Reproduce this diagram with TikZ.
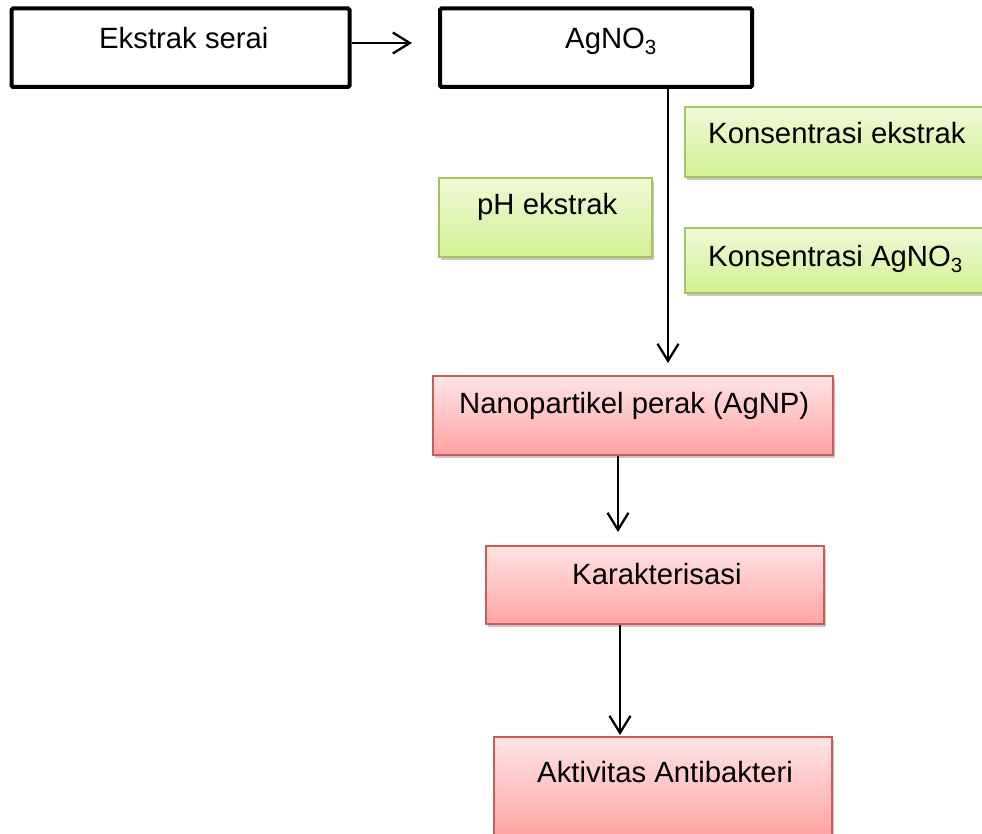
\documentclass[tikz,border=0pt]{standalone}
\usepackage{fontspec}
\setmainfont{Liberation Sans}
\usetikzlibrary{arrows.meta,shadows}
\definecolor{gtop}{HTML}{F0FAD8}
\definecolor{gbot}{HTML}{D2F092}
\definecolor{gline}{HTML}{A3C660}
\definecolor{rtop}{HTML}{FFE4E4}
\definecolor{rbot}{HTML}{FFA4A4}
\definecolor{rline}{HTML}{CC5A58}
\begin{document}
\begin{tikzpicture}[x=1pt,y=-1pt,
  blackbox/.style={draw=black,line width=4pt,rounded corners=1.5pt,fill=white,inner sep=0pt},
  softshadow/.style={drop shadow={shadow xshift=2pt,shadow yshift=-3pt,opacity=0.22,fill=black}},
  greenbox/.style={draw=gline,line width=1.6pt,top color=gtop,bottom color=gbot,inner sep=0pt,softshadow},
  redbox/.style={draw=rline,line width=1.6pt,top color=rtop,bottom color=rbot,inner sep=0pt,softshadow},
  lbl/.style={inner sep=0pt,anchor=base west,font=\fontsize{29.3}{34}\selectfont},
  arr/.style={line width=2.3pt,-{Straight Barb[length=17pt,width=21pt,line width=2.3pt]}}]
\useasboundingbox (0,0) rectangle (982,834);
\fill[white] (0,0) rectangle (982,834);
% boxes
\node[blackbox,minimum width=338pt,minimum height=78.5pt] (ek) at (180.5,47.75) {};
\node[blackbox,minimum width=312pt,minimum height=78.5pt] (ag) at (596,47.75) {};
\node[greenbox,minimum width=298pt,minimum height=70pt] (g1) at (834,142) {};
\node[greenbox,minimum width=298pt,minimum height=65pt] (g2) at (834,260.5) {};
\node[greenbox,minimum width=213pt,minimum height=79pt] (ph) at (545.5,217.5) {};
\node[redbox,minimum width=400pt,minimum height=79pt] (np) at (633,415.5) {};
\node[redbox,minimum width=338pt,minimum height=78pt] (kar) at (655,585) {};
\node[redbox,minimum width=338pt,minimum height=100pt] (akt) at (663,787) {};
% texts
\node[lbl] (tek) at (99,49) {Ekstrak serai};
\node[lbl] (tag) at (565,49) {AgNO\textsubscript{3}};
\node[lbl] (tg1) at (708,144) {Konsentrasi ekstrak};
\node[lbl] (tg2) at (708,267) {Konsentrasi AgNO\textsubscript{3}};
\node[lbl] (tph) at (477,215) {pH ekstrak};
\node[lbl] (tnp) at (459,413) {Nanopartikel perak (AgNP)};
\node[lbl] (tkar) at (572,584) {Karakterisasi};
\node[lbl] (takt) at (537,782) {Aktivitas Antibakteri};
% connectors
\coordinate (e1) at (412,43);
\coordinate (e2) at (668,363);
\coordinate (e3) at (618,532);
\coordinate (e4) at (620,735);
\draw[arr] (ek.east |- e1) -- (e1);
\draw[arr] (ag.south -| e2) -- (e2);
\draw[arr] (np.south -| e3) -- (e3);
\draw[arr] (kar.south -| e4) -- (e4);
\end{tikzpicture}
\end{document}
